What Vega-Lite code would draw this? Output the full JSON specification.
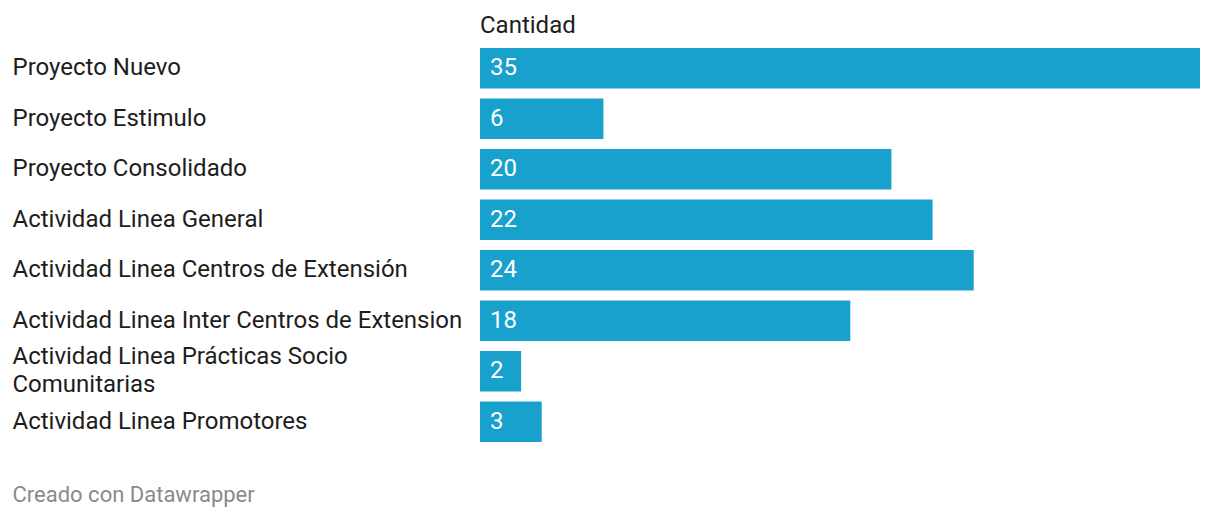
{
  "$schema": "https://vega.github.io/schema/vega-lite/v6.json",
  "autosize": {"type": "none"},
  "width": 720,
  "height": 394,
  "padding": {"left": 480, "right": 20, "top": 48, "bottom": 76},
  "background": "#ffffff",
  "config": {
    "view": {"stroke": null},
    "font": "Roboto"
  },
  "title": {
    "text": "Cantidad",
    "anchor": "start",
    "frame": "group",
    "font": "Roboto",
    "fontSize": 24,
    "fontWeight": "normal",
    "color": "#1d1d1d",
    "offset": 10
  },
  "data": {
    "values": [
      {"categoria": "Proyecto Nuevo", "cantidad": 35},
      {"categoria": "Proyecto Estimulo", "cantidad": 6},
      {"categoria": "Proyecto Consolidado", "cantidad": 20},
      {"categoria": "Actividad Linea General", "cantidad": 22},
      {"categoria": "Actividad Linea Centros de Extensión", "cantidad": 24},
      {"categoria": "Actividad Linea Inter Centros de Extension", "cantidad": 18},
      {"categoria": "Actividad Linea Prácticas Socio Comunitarias", "cantidad": 2},
      {"categoria": "Actividad Linea Promotores", "cantidad": 3}
    ]
  },
  "encoding": {
    "y": {
      "field": "categoria",
      "type": "nominal",
      "sort": null,
      "scale": {"paddingInner": 0.2, "paddingOuter": 0},
      "axis": {
        "title": null,
        "ticks": false,
        "domain": false,
        "labelAlign": "left",
        "labelBaseline": "middle",
        "labelPadding": 468,
        "labelFontSize": 24,
        "labelFont": "Roboto",
        "labelColor": "#1d1d1d",
        "labelLimit": 600,
        "labelLineHeight": 28,
        "labelOffset": {"condition": {"test": "datum.value == 'Actividad Linea Prácticas Socio Comunitarias'", "value": -14}, "value": 0},
        "labelExpr": "datum.value == 'Actividad Linea Prácticas Socio Comunitarias' ? ['Actividad Linea Prácticas Socio', 'Comunitarias'] : datum.value"
      }
    }
  },
  "layer": [
    {
      "mark": {"type": "bar", "color": "#18a1cd"},
      "encoding": {
        "x": {
          "field": "cantidad",
          "type": "quantitative",
          "scale": {"domain": [0, 35], "nice": false},
          "axis": {
            "title": "Creado con Datawrapper",
            "titleFont": "Roboto",
            "titleFontSize": 22,
            "titleFontWeight": "normal",
            "titleColor": "#8a8a8a",
            "titleAlign": "left",
            "titleAnchor": "start",
            "titleX": -468,
            "titleY": 52,
            "titleBaseline": "middle",
            "labels": false,
            "ticks": false,
            "domain": false,
            "grid": false
          }
        }
      }
    },
    {
      "mark": {"type": "text", "align": "left", "baseline": "middle", "dx": 10, "color": "#ffffff", "fontSize": 24, "font": "Roboto"},
      "encoding": {
        "x": {"datum": 0, "type": "quantitative"},
        "text": {"field": "cantidad", "type": "quantitative"}
      }
    }
  ]
}
